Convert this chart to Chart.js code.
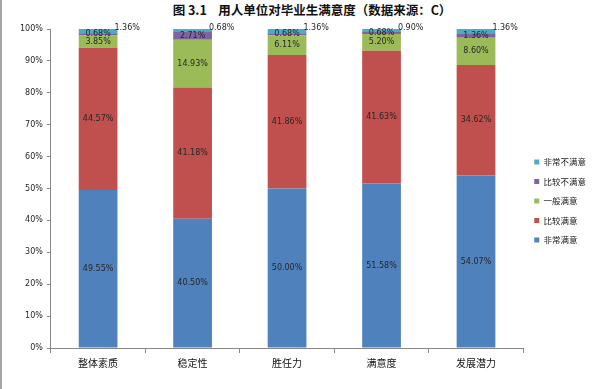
<!DOCTYPE html>
<html>
<head>
<meta charset="utf-8">
<script src="https://cdn.jsdelivr.net/npm/chart.js@4"></script>
<style>
    html, body { margin: 0; padding: 0; background: #fff; }
    .wrap { position: relative; width: 600px; height: 389px; }
    .wrap::before { content: ''; position: absolute; left: 0; top: 0; bottom: 0; width: 2px; background: #a6a6a6; }
    .title {
        position: absolute; left: 0; width: 624px; top: 0; text-align: center;
        font: bold 12.5px "Noto Sans CJK SC", sans-serif; color: #111; white-space: pre;
    }
    canvas { position: absolute; left: 0; top: 0; }
</style>
</head>
<body>
<div class="wrap">
    <div class="title">图 3.1    用人单位对毕业生满意度（数据来源：C）</div>
    <canvas id="chart" width="600" height="389"></canvas>
</div>
<script>
// Survey shares per category, in percent.
const categories = ['整体素质', '稳定性', '胜任力', '满意度', '发展潜力'];
const seriesNames = ['非常满意', '比较满意', '一般满意', '比较不满意', '非常不满意'];
const verySatisfied = [49.55, 40.50, 50.00, 51.58, 54.07];
const satisfied = [44.57, 41.18, 41.86, 41.63, 34.62];
const neutral = [3.85, 14.93, 6.11, 5.20, 8.60];
const dissatisfied = [0.68, 2.71, 0.68, 0.68, 1.36];
const veryDissatisfied = [1.36, 0.68, 1.36, 0.90, 1.36];
const yTicks = [0, 10, 20, 30, 40, 50, 60, 70, 80, 90, 100];

const colors = ['#4f81bd', '#c0504d', '#9bbb59', '#8064a2', '#4bacc6'];
const allSeries = [verySatisfied, satisfied, neutral, dissatisfied, veryDissatisfied];

// Value labels: centred in each segment, the top series beside the bar top.
const valueLabels = {
    id: 'valueLabels',
    afterDatasetsDraw(chart) {
        const ctx = chart.ctx;
        ctx.save();
        ctx.font = '8px "DejaVu Sans", sans-serif';
        ctx.fillStyle = '#262626';
        ctx.textBaseline = 'middle';
        chart.data.datasets.forEach((ds, di) => {
            const meta = chart.getDatasetMeta(di);
            meta.data.forEach((bar, i) => {
                const text = ds.data[i].toFixed(2) + '%';
                const p = bar.getProps(['x', 'y', 'base', 'width'], true);
                if (di === allSeries.length - 1) {
                    ctx.textAlign = 'left';
                    ctx.fillText(text, p.x + p.width / 2 - 3, p.y - 1);
                } else {
                    ctx.textAlign = 'center';
                    ctx.fillText(text, p.x, (p.y + p.base) / 2);
                }
            });
        });
        ctx.restore();
    }
};

new Chart(document.getElementById('chart'), {
    type: 'bar',
    data: {
        labels: categories,
        datasets: allSeries.map((values, i) => ({
            label: seriesNames[i],
            data: values,
            backgroundColor: colors[i],
            borderWidth: 0,
            categoryPercentage: 1,
            barPercentage: 0.41
        }))
    },
    options: {
        responsive: false,
        animation: false,
        layout: { padding: { left: 16, right: 4, top: 29, bottom: 16 } },
        plugins: {
            legend: {
                position: 'right',
                reverse: true,
                labels: {
                    boxWidth: 5,
                    boxHeight: 5,
                    padding: 11,
                    color: '#222',
                    font: { family: '"Noto Sans CJK SC", sans-serif', size: 8.5 }
                }
            },
            tooltip: { enabled: false }
        },
        scales: {
            x: {
                stacked: true,
                grid: { drawOnChartArea: false, color: '#888', tickLength: 5, offset: true },
                border: { color: '#888' },
                ticks: {
                    color: '#111',
                    padding: 4,
                    font: { family: '"Noto Sans CJK SC", sans-serif', size: 10 }
                }
            },
            y: {
                stacked: true,
                min: 0,
                max: 100,
                afterBuildTicks: axis => { axis.ticks = yTicks.map(v => ({ value: v })); },
                grid: { drawOnChartArea: false, color: '#888', tickLength: 4 },
                border: { color: '#888' },
                ticks: {
                    color: '#262626',
                    padding: 4,
                    font: { family: '"DejaVu Sans", sans-serif', size: 8 },
                    callback: v => v + '%'
                }
            }
        }
    },
    plugins: [valueLabels]
});
</script>
</body>
</html>
